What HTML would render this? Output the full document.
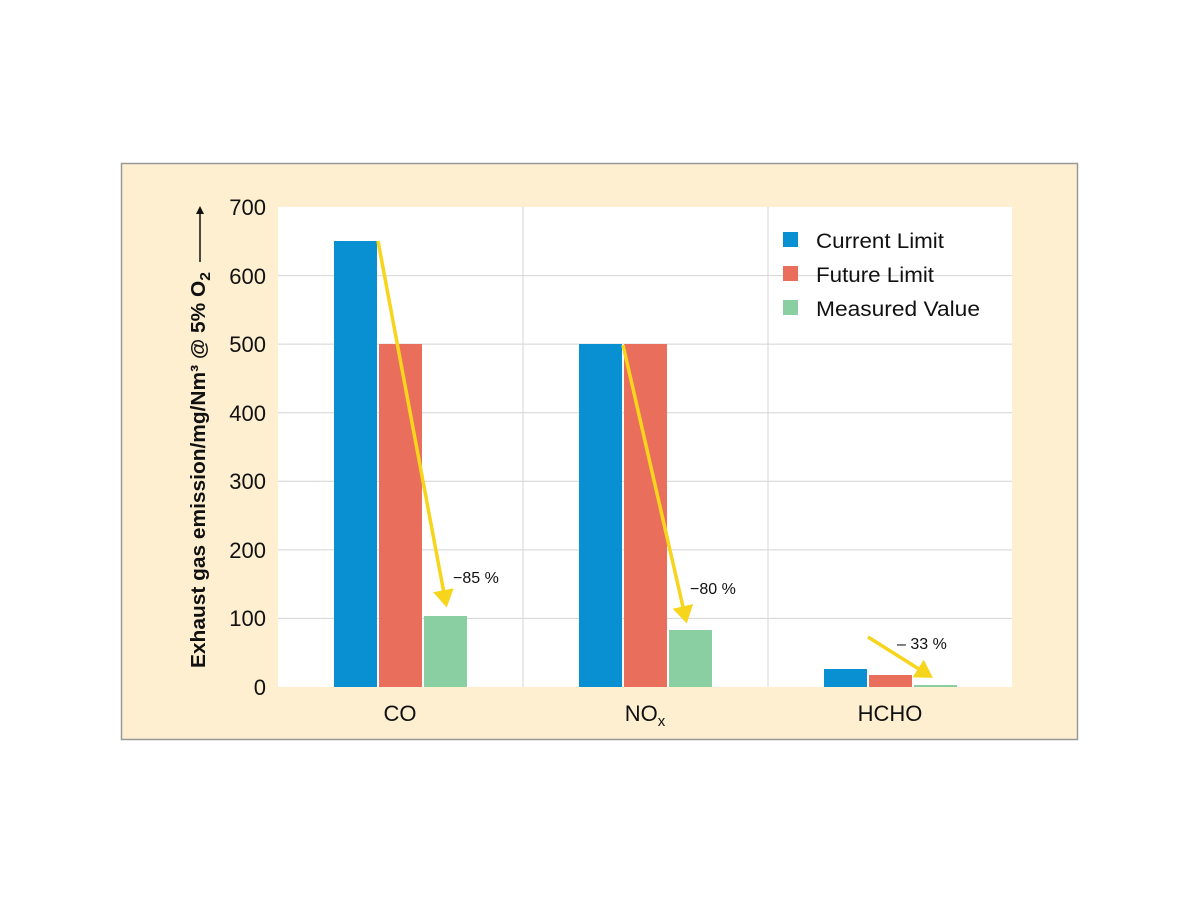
<!DOCTYPE html>
<html><head><style>
body{margin:0;background:#fff;}
svg text{font-family:"Liberation Sans",sans-serif;}
</style></head><body>
<svg width="1200" height="900" xmlns="http://www.w3.org/2000/svg">
<defs><marker id="ah" markerWidth="6" markerHeight="6" refX="4" refY="3" orient="auto" markerUnits="strokeWidth"><path d="M0,0 L5,3 L0,6 z" fill="#f7d51d"/></marker>
<marker id="bk" markerWidth="8" markerHeight="8" refX="6" refY="4" orient="auto" markerUnits="userSpaceOnUse"><path d="M0,0 L8,4 L0,8 z" fill="#111"/></marker></defs>
<rect x="121.5" y="163.5" width="956" height="576" fill="#fdefd0" stroke="#999" stroke-width="1.5"/>
<rect x="278" y="207" width="734" height="480" fill="#fff"/>
<g stroke="#d4d4d4" stroke-width="1">
<line x1="278" x2="1012" y1="618.4" y2="618.4"/><line x1="278" x2="1012" y1="549.9" y2="549.9"/>
<line x1="278" x2="1012" y1="481.3" y2="481.3"/><line x1="278" x2="1012" y1="412.7" y2="412.7"/>
<line x1="278" x2="1012" y1="344.1" y2="344.1"/><line x1="278" x2="1012" y1="275.6" y2="275.6"/>
<line x1="523" x2="523" y1="207" y2="687"/><line x1="768" x2="768" y1="207" y2="687"/>
</g>
<g font-size="22" fill="#111" text-anchor="end">
<text x="266" y="695">0</text><text x="266" y="626">100</text><text x="266" y="558">200</text>
<text x="266" y="489">300</text><text x="266" y="421">400</text><text x="266" y="352">500</text>
<text x="266" y="284">600</text><text x="266" y="215">700</text>
</g>
<text transform="translate(205,668) rotate(-90)" font-size="20" font-weight="bold" fill="#111" textLength="396" lengthAdjust="spacingAndGlyphs">Exhaust gas emission/mg/Nm³ @ 5% O<tspan font-size="15" dy="5">2</tspan></text>
<line x1="200" y1="262" x2="200" y2="208" stroke="#111" stroke-width="1.5" marker-end="url(#bk)"/>
<g>
<rect x="334" y="241" width="43" height="446" fill="#0890d2"/>
<rect x="379" y="344" width="43" height="343" fill="#e96f5c"/>
<rect x="424" y="616" width="43" height="71" fill="#89cfa1"/>
<rect x="579" y="344" width="43" height="343" fill="#0890d2"/>
<rect x="624" y="344" width="43" height="343" fill="#e96f5c"/>
<rect x="669" y="630" width="43" height="57" fill="#89cfa1"/>
<rect x="824" y="669" width="43" height="18" fill="#0890d2"/>
<rect x="869" y="675" width="43" height="12" fill="#e96f5c"/>
<rect x="914" y="685" width="43" height="2" fill="#89cfa1"/>
</g>
<g stroke="#f7d51d" stroke-width="3.5" fill="none">
<line x1="378" y1="241" x2="446" y2="604" marker-end="url(#ah)"/>
<line x1="623" y1="345" x2="686" y2="620" marker-end="url(#ah)"/>
<line x1="868" y1="637" x2="930" y2="676" marker-end="url(#ah)"/>
</g>
<g font-size="16" fill="#111">
<text x="453" y="583">−85 %</text><text x="690" y="594">−80 %</text><text x="897" y="649">– 33 %</text>
</g>
<g font-size="22" fill="#111" text-anchor="middle">
<text x="400" y="721">CO</text><text x="645" y="721">NO<tspan font-size="15" dy="5">x</tspan></text><text x="890" y="721">HCHO</text>
</g>
<rect x="783" y="232" width="15" height="15" fill="#0890d2"/>
<rect x="783" y="266" width="15" height="15" fill="#e96f5c"/>
<rect x="783" y="300" width="15" height="15" fill="#89cfa1"/>
<g font-size="21" fill="#111">
<text x="816" y="248" textLength="128" lengthAdjust="spacingAndGlyphs">Current Limit</text><text x="816" y="282" textLength="118" lengthAdjust="spacingAndGlyphs">Future Limit</text><text x="816" y="316" textLength="164" lengthAdjust="spacingAndGlyphs">Measured Value</text>
</g>
</svg>
</body></html>
